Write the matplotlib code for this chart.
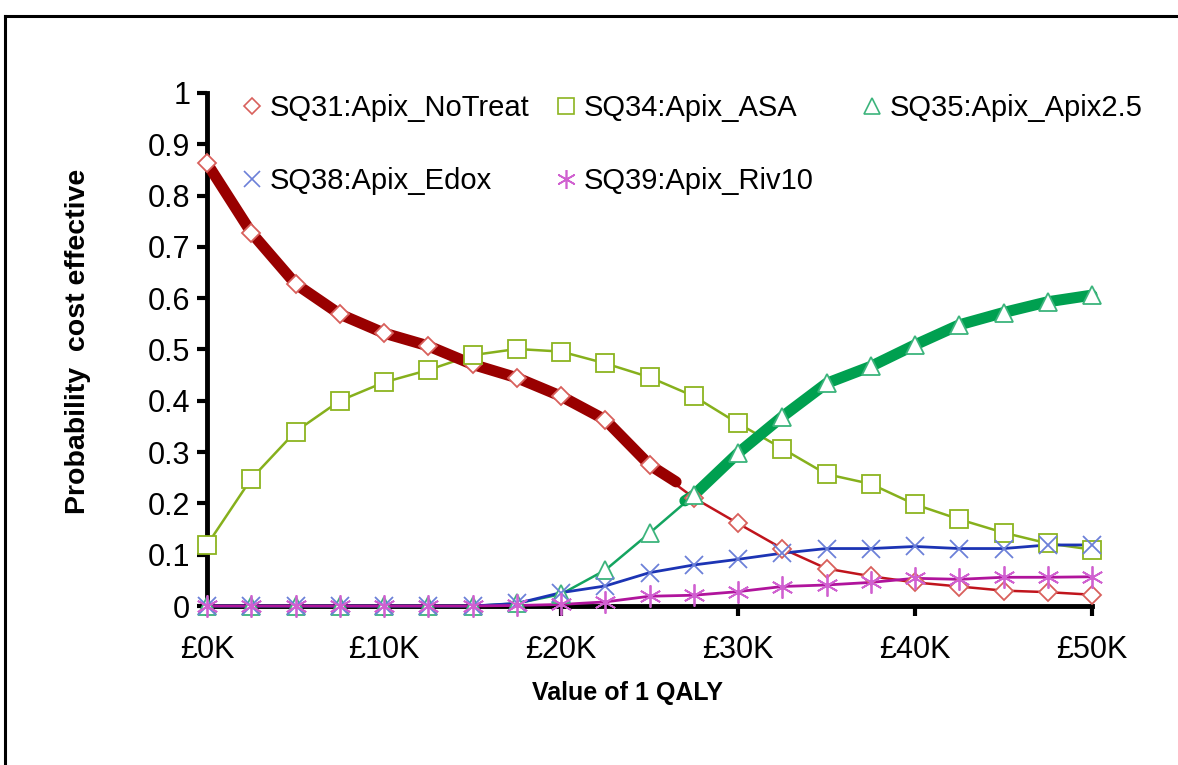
import matplotlib
matplotlib.use("Agg")
import matplotlib.pyplot as plt
from matplotlib.lines import Line2D
from matplotlib.legend import Legend
from matplotlib.ticker import FuncFormatter, MultipleLocator

plt.rcParams['font.family'] = ['Liberation Sans', 'DejaVu Sans']

# Willingness to pay (thousands of GBP)
wtp = [0, 2.5, 5, 7.5, 10, 12.5, 15, 17.5, 20, 22.5, 25, 27.5, 30, 32.5, 35,
       37.5, 40, 42.5, 45, 47.5, 50]

notreat = [0.863, 0.728, 0.628, 0.569, 0.532, 0.507, 0.471, 0.445, 0.409, 0.363,
           0.275, 0.211, 0.161, 0.112, 0.073, 0.058, 0.046, 0.038, 0.030, 0.027, 0.022]
asa = [0.119, 0.248, 0.340, 0.400, 0.436, 0.460, 0.489, 0.501, 0.496, 0.473,
       0.446, 0.409, 0.356, 0.307, 0.257, 0.238, 0.198, 0.169, 0.143, 0.122, 0.110]
apix25 = [0.0, 0.0, 0.0, 0.0, 0.0, 0.0, 0.0, 0.005, 0.023, 0.070,
          0.142, 0.216, 0.298, 0.369, 0.434, 0.467, 0.509, 0.548, 0.572, 0.593, 0.606]
edox = [0.0, 0.0, 0.0, 0.0, 0.0, 0.0, 0.0, 0.005, 0.026, 0.039,
        0.065, 0.080, 0.091, 0.103, 0.112, 0.112, 0.116, 0.112, 0.112, 0.119, 0.119]
riv10 = [0.0, 0.0, 0.0, 0.0, 0.0, 0.0, 0.0, 0.001, 0.003, 0.008,
         0.019, 0.021, 0.028, 0.038, 0.041, 0.046, 0.054, 0.052, 0.056, 0.056, 0.057]

# Cost-effectiveness acceptability frontier (thick segments)
front_red_x = [0, 2.5, 5, 7.5, 10, 12.5, 15, 17.5, 20, 22.5, 25, 26.5]
front_red_y = [0.863, 0.728, 0.628, 0.569, 0.532, 0.507, 0.471, 0.445, 0.409, 0.363, 0.275, 0.242]
front_green_x = [27, 27.5, 30, 32.5, 35, 37.5, 40, 42.5, 45, 47.5, 50]
front_green_y = [0.205, 0.216, 0.298, 0.369, 0.434, 0.467, 0.509, 0.548, 0.572, 0.593, 0.606]

labels = ["SQ31:Apix_NoTreat", "SQ34:Apix_ASA", "SQ35:Apix_Apix2.5",
          "SQ38:Apix_Edox", "SQ39:Apix_Riv10"]

W, H = 1178, 765
fig = plt.figure(figsize=(W / 100, H / 100), dpi=100)
ax = fig.add_axes([207 / W, 1 - 606 / H, (1092 - 207) / W, (606 - 93) / H])

# chart-area border (cropped at right and bottom)
fig.add_artist(Line2D([5 / W, 1.02], [1 - 16 / H, 1 - 16 / H], color='black', lw=2.2))
fig.add_artist(Line2D([5 / W, 5 / W], [1 - 16 / H, -0.02], color='black', lw=2.2))

series = [
    (notreat, '#C0141C', 'D', 9.5, '#D8605C', 1.8),
    (asa, '#86B01C', 's', 13, '#8CB420', 1.8),
    (apix25, '#14A460', '^', 13, '#3CB47C', 1.8),
    (edox, '#1C34B4', 'x', 13, '#6C80D8', 2.0),
    (riv10, '#B0149C', (6, 2, 0), 16, '#D060D0', 2.0),
]

handles = []
for vals, lc, mk, ms, mc, lw in series:
    ax.plot(wtp, vals, color=lc, lw=lw, zorder=2, clip_on=False)

ax.plot(front_red_x, front_red_y, color='#990000', lw=8, zorder=3,
        solid_capstyle='round', solid_joinstyle='round', clip_on=False)
ax.plot(front_green_x, front_green_y, color='#00A050', lw=8, zorder=3,
        solid_capstyle='round', solid_joinstyle='round', clip_on=False)

for (vals, lc, mk, ms, mc, lw), lab in zip(series, labels):
    open_mk = mk not in ('x', (6, 2, 0))
    ax.plot(wtp, vals, linestyle='none', marker=mk, markersize=ms,
            markerfacecolor='white' if open_mk else mc,
            markeredgecolor=mc, markeredgewidth=1.3, zorder=4, clip_on=False)
    handles.append(Line2D([], [], linestyle='none', marker=mk, markersize=ms * 0.85,
                          markerfacecolor='white' if open_mk else mc,
                          markeredgecolor=mc, markeredgewidth=1.2, label=lab))

ax.set_xlim(0, 50)
ax.set_ylim(0, 1)
ax.xaxis.set_major_locator(MultipleLocator(10))
ax.yaxis.set_major_locator(MultipleLocator(0.1))
ax.xaxis.set_major_formatter(FuncFormatter(lambda v, p: f"£{v:.0f}K"))
ax.yaxis.set_major_formatter(FuncFormatter(
    lambda v, p: f"{v:.0f}" if abs(v - round(v)) < 1e-9 else f"{v:.1f}"))

for s in ('top', 'right'):
    ax.spines[s].set_visible(False)
for s in ('left', 'bottom'):
    ax.spines[s].set_linewidth(3.5)
    ax.spines[s].set_zorder(1.5)
ax.tick_params(axis='both', direction='out', length=7, width=3, labelsize=22, colors='black')
ax.tick_params(axis='y', pad=5)
ax.tick_params(axis='x', pad=14)

ax.set_xlabel("Value of 1 QALY", fontsize=18, fontweight='bold')
ax.xaxis.set_label_coords((628 - 207) / 885, (606 - 693) / 513)
ax.xaxis.label.set_va('center')
ax.set_ylabel("Probability  cost effective", fontsize=20.5, fontweight='bold')
ax.yaxis.set_label_coords((78 - 207) / 885, (606 - 341) / 513)
ax.yaxis.label.set_va('center')

# legend: three columns placed individually
cols = [[0, 3], [1, 4], [2]]
xs = [245, 559, 865]
for ci, idx in enumerate(cols):
    hs = [handles[i] for i in idx]
    leg = Legend(ax, hs, [h.get_label() for h in hs], loc='upper left',
                 bbox_to_anchor=(xs[ci] / W, 1 - 94 / H), bbox_transform=fig.transFigure,
                 frameon=False, fontsize=21, handlelength=0.5, handletextpad=0.35,
                 labelspacing=1.55, borderpad=0, borderaxespad=0)
    ax.add_artist(leg)

fig.savefig("out.png", dpi=100, facecolor='white')
